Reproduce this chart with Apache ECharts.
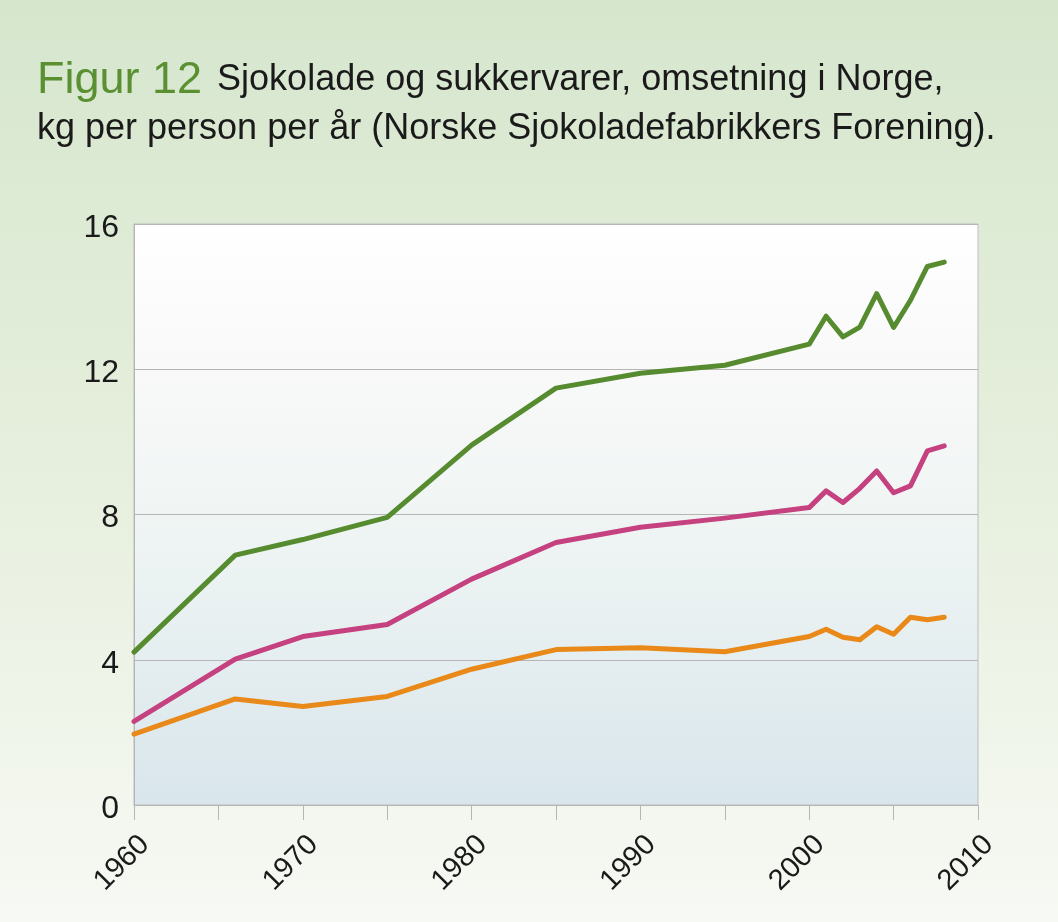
<!DOCTYPE html>
<html>
<head>
<meta charset="utf-8">
<script src="https://cdn.jsdelivr.net/npm/echarts@6/dist/echarts.min.js"></script>
<style>
  html, body { margin: 0; padding: 0; }
  #chart { width: 1058px; height: 922px; }
</style>
</head>
<body>
<div id="chart"></div>
<script>
// År med målinger
const years = [1960, 1966, 1970, 1975, 1980, 1985, 1990, 1995, 2000, 2001, 2002, 2003, 2004, 2005, 2006, 2007, 2008]
// kg per person per år
const totalt = [4.21, 6.88, 7.31, 7.92, 9.91, 11.48, 11.89, 12.11, 12.69, 13.46, 12.89, 13.16, 14.08, 13.15, 13.90, 14.83, 14.95]
const midtre = [2.30, 4.02, 4.64, 4.97, 6.22, 7.23, 7.65, 7.90, 8.19, 8.65, 8.33, 8.72, 9.20, 8.60, 8.79, 9.75, 9.89]
const nedre = [1.95, 2.92, 2.71, 2.99, 3.74, 4.28, 4.33, 4.22, 4.64, 4.84, 4.62, 4.55, 4.91, 4.70, 5.17, 5.10, 5.17]

const colors = ['#568c2f', '#c5417f', '#e8891a']
const fontFamily = '"Liberation Sans", Arial, sans-serif'

const chart = echarts.init(document.getElementById('chart'))

const makeSeries = (values, color) => ({
  type: 'line',
  data: years.map((y, i) => [y, values[i]]),
  showSymbol: false,
  lineStyle: { width: 5, color: color, cap: 'round', join: 'round' },
  itemStyle: { color: color },
  animation: false,
})

chart.setOption({
  backgroundColor: {
    type: 'linear', x: 0, y: 0, x2: 0, y2: 1,
    colorStops: [
      { offset: 0, color: '#d6e6cd' },
      { offset: 0.5, color: '#e6efdd' },
      { offset: 1, color: '#f7f9f4' },
    ],
  },
  title: {
    left: 32,
    top: 51,
    text: '{a|Figur 12} {b| Sjokolade og sukkervarer, omsetning i Norge,}\n{b|kg per person per år (Norske Sjokoladefabrikkers Forening).}',
    textStyle: {
      fontFamily: fontFamily,
      fontWeight: 'normal',
      rich: {
        a: { fontSize: 45, color: '#5a8f32', fontFamily: fontFamily, fontWeight: 'normal', lineHeight: 49 },
        b: { fontSize: 36, color: '#1a1a1a', fontFamily: fontFamily, fontWeight: 'normal', lineHeight: 49 },
      },
    },
  },
  grid: {
    left: 134,
    right: 80,
    top: 224,
    bottom: 117,
    show: true,
    borderColor: '#bdbdbd',
    borderWidth: 1,
    backgroundColor: {
      type: 'linear', x: 0, y: 0, x2: 0, y2: 1,
      colorStops: [
        { offset: 0, color: '#ffffff' },
        { offset: 0.25, color: '#f9f9f9' },
        { offset: 0.55, color: '#eef4f3' },
        { offset: 1, color: '#d9e6ec' },
      ],
    },
  },
  xAxis: {
    type: 'value',
    min: 1960,
    max: 2010,
    interval: 5,
    axisLine: { lineStyle: { color: '#b5b5b5', width: 1 } },
    axisTick: { show: true, length: 15, lineStyle: { color: '#b5b5b5' } },
    splitLine: { show: false },
    axisLabel: {
      rotate: 45,
      margin: 46,
      align: 'center',
      verticalAlign: 'middle',
      padding: [0, 34, 0, 0],
      fontSize: 29,
      color: '#1a1a1a',
      fontFamily: fontFamily,
      formatter: (v) => (v % 10 === 0 ? String(v) : ''),
    },
  },
  yAxis: {
    type: 'value',
    min: 0,
    max: 16,
    interval: 4,
    axisLine: { show: true, lineStyle: { color: '#b5b5b5', width: 1 } },
    axisTick: { show: false },
    splitLine: { lineStyle: { color: '#b5b5b5', width: 1 } },
    axisLabel: {
      margin: 15,
      fontSize: 32,
      verticalAlign: 'top',
      lineHeight: 32,
      padding: [-12, 0, 0, 0],
      color: '#1a1a1a',
      fontFamily: fontFamily,
    },
  },
  series: [
    makeSeries(totalt, colors[0]),
    makeSeries(midtre, colors[1]),
    makeSeries(nedre, colors[2]),
  ],
})
</script>
</body>
</html>
